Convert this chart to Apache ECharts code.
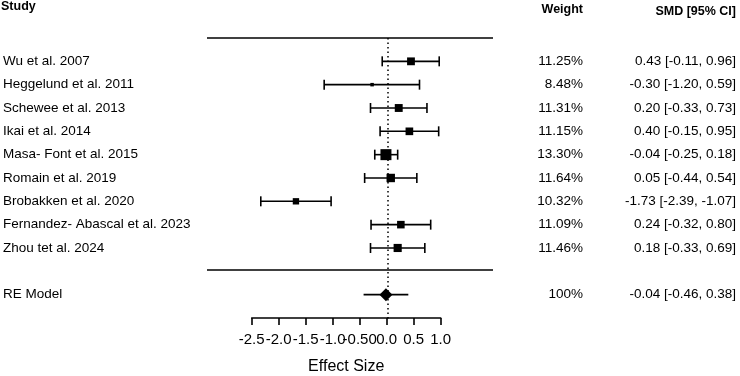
<!DOCTYPE html>
<html>
<head>
<meta charset="utf-8">
<title>Forest plot</title>
<script src="https://cdn.jsdelivr.net/npm/echarts@6/dist/echarts.min.js"></script>
<style>
  html, body { margin: 0; padding: 0; background: #fff; }
  #main { width: 740px; height: 376px; }
</style>
</head>
<body>
<div id="main"></div>
<script>
// study data
var studies = ['Wu et al. 2007', 'Heggelund et al. 2011', 'Schewee et al. 2013', 'Ikai et al. 2014',
  'Masa- Font et al. 2015', 'Romain et al. 2019', 'Brobakken et al. 2020',
  'Fernandez- Abascal et al. 2023', 'Zhou tet al. 2024'];
var weights = [11.25, 8.48, 11.31, 11.15, 13.30, 11.64, 10.32, 11.09, 11.46];
var smd = [0.43, -0.30, 0.20, 0.40, -0.04, 0.05, -1.73, 0.24, 0.18];
var lower = [-0.11, -1.20, -0.33, -0.15, -0.25, -0.44, -2.39, -0.32, -0.33];
var upper = [0.96, 0.59, 0.73, 0.95, 0.18, 0.54, -1.07, 0.80, 0.69];

var reLabel = 'RE Model';
var reWeight = '100%';
var reEst = -0.04, reLo = -0.46, reHi = 0.38;

var tickVals = [-2.5, -2.0, -1.5, -1.0, -0.5, 0.0, 0.5, 1.0];
var tickLabels = ['-2.5', '-2.0', '-1.5', '-1.0', '-0.50', '0.0', '0.5', '1.0'];

var RE_ROW = 10;
var FONT = "'Liberation Sans', Arial, sans-serif";

function fmt(e, l, h) {
  return e.toFixed(2) + ' [' + l.toFixed(2) + ', ' + h.toFixed(2) + ']';
}

var rowText = {}, rowWeight = {}, rowSmd = {};
studies.forEach(function (s, i) {
  rowText[i] = s;
  rowWeight[i] = weights[i].toFixed(2) + '%';
  rowSmd[i] = fmt(smd[i], lower[i], upper[i]);
});
rowText[RE_ROW] = reLabel;
rowWeight[RE_ROW] = reWeight;
rowSmd[RE_ROW] = fmt(reEst, reLo, reHi);

var wMin = Math.min.apply(null, weights), wMax = Math.max.apply(null, weights);
function squareSize(w) {
  return 3.5 + (w - wMin) / (wMax - wMin) * 7.5;
}

var ciData = studies.map(function (s, i) { return [lower[i], upper[i], i, 1]; });
ciData.push([reLo, reHi, RE_ROW, 0]);
var pointData = studies.map(function (s, i) { return [smd[i], i, weights[i]]; });

function rowAxis(pos, map, align, margin) {
  return {
    gridIndex: 0, type: 'value', position: pos, inverse: true,
    min: -1, max: 11.13, interval: 1,
    axisLine: { show: false }, axisTick: { show: false }, splitLine: { show: false },
    axisLabel: {
      margin: margin, align: align, color: '#000', fontSize: 13.5, fontFamily: FONT,
      formatter: function (v) { var k = Math.round(v); return map[k] !== undefined ? map[k] : ''; }
    }
  };
}

var chart = echarts.init(document.getElementById('main'));
chart.setOption({
  animation: false,
  grid: [
    { left: 203, top: 38, width: 290, height: 283 },
    { left: 251.7, top: 300, width: 189, height: 21 }
  ],
  xAxis: [
    { gridIndex: 0, type: 'value', min: -3.4, max: 1.97, show: false },
    {
      gridIndex: 1, type: 'value', min: -2.5, max: 1.0, interval: 0.5,
      axisLine: { lineStyle: { color: '#000', width: 1.6 } },
      axisTick: { length: 7, lineStyle: { color: '#000', width: 1.6 } },
      splitLine: { show: false },
      axisLabel: {
        margin: 14, color: '#000', fontSize: 15, fontFamily: FONT,
        hideOverlap: false,
        formatter: function (v) {
          var i = tickVals.indexOf(Math.round(v * 10) / 10);
          return i >= 0 ? tickLabels[i] : '';
        }
      },
      name: 'Effect Size', nameLocation: 'middle', nameGap: 41,
      nameTextStyle: { color: '#000', fontSize: 16, fontFamily: FONT }
    }
  ],
  yAxis: [
    rowAxis('left', rowText, 'left', 204),
    rowAxis('right', rowWeight, 'right', 90),
    rowAxis('right', rowSmd, 'right', 243),
    { gridIndex: 1, type: 'value', show: false }
  ],
  graphic: [
    { type: 'text', x: 1, y: 7, style: { text: 'Study', font: 'bold 12.5px ' + FONT, fill: '#000', textAlign: 'left', textVerticalAlign: 'middle' } },
    { type: 'text', x: 583, y: 10, style: { text: 'Weight', font: 'bold 12.5px ' + FONT, fill: '#000', textAlign: 'right', textVerticalAlign: 'middle' } },
    { type: 'text', x: 736, y: 12, style: { text: 'SMD [95% CI]', font: 'bold 12.5px ' + FONT, fill: '#000', textAlign: 'right', textVerticalAlign: 'middle' } }
  ],
  series: [
    {
      type: 'custom', xAxisIndex: 0, yAxisIndex: 0, silent: true, z: 2,
      data: ciData,
      renderItem: function (params, api) {
        var a = api.coord([api.value(0), api.value(2)]);
        var b = api.coord([api.value(1), api.value(2)]);
        var st = { stroke: '#000', lineWidth: 1.6 };
        var kids = [{ type: 'line', shape: { x1: a[0], y1: a[1], x2: b[0], y2: b[1] }, style: st }];
        if (api.value(3)) {
          kids.push({ type: 'line', shape: { x1: a[0], y1: a[1] - 5, x2: a[0], y2: a[1] + 5 }, style: st });
          kids.push({ type: 'line', shape: { x1: b[0], y1: b[1] - 5, x2: b[0], y2: b[1] + 5 }, style: st });
        }
        return { type: 'group', children: kids };
      },
      markLine: {
        silent: true, symbol: 'none', label: { show: false },
        data: [
          { yAxis: -1, lineStyle: { color: '#000', width: 1.6, type: 'solid' } },
          { yAxis: 8.95, lineStyle: { color: '#000', width: 1.6, type: 'solid' } },
          { xAxis: 0, lineStyle: { color: '#000', width: 1.5, type: [1.5, 3] } }
        ]
      }
    },
    {
      type: 'scatter', xAxisIndex: 0, yAxisIndex: 0, silent: true, z: 3,
      symbol: 'rect',
      symbolSize: function (d) { return squareSize(d[2]); },
      itemStyle: { color: '#000', opacity: 1 },
      data: pointData
    },
    {
      type: 'scatter', xAxisIndex: 0, yAxisIndex: 0, silent: true, z: 3,
      symbol: 'diamond', symbolSize: 13,
      itemStyle: { color: '#000', opacity: 1 },
      data: [[reEst, RE_ROW]]
    }
  ]
});
</script>
</body>
</html>
